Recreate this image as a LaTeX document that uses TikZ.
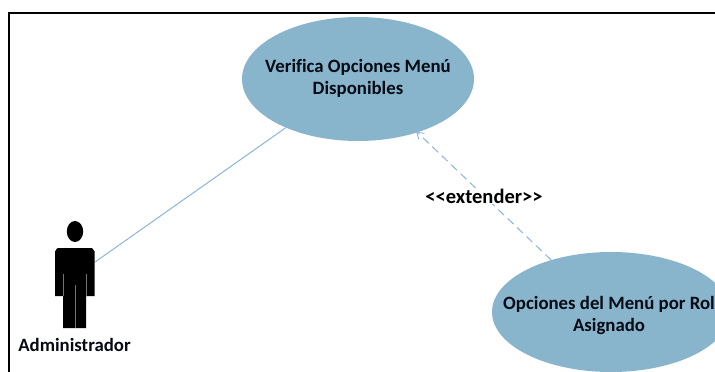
\documentclass[tikz,border=0pt]{standalone}
\usepackage{fontspec}
\setmainfont{Carlito}[Ligatures=NoCommon]
\usetikzlibrary{shapes.geometric,arrows.meta}
\definecolor{ucfill}{HTML}{88B5CC}
\definecolor{linkblue}{HTML}{8DB4DA}
\definecolor{inkdark}{HTML}{050A14}
\tikzset{
  x=1pt,y=-1pt,
  usecase/.style={ellipse,fill=ucfill,draw=none,inner sep=0pt},
  uctext/.style={font=\fontsize{18.8}{22}\selectfont\bfseries,text=inkdark,align=center,inner sep=0pt},
  link/.style={draw=linkblue,line width=1pt},
  deplink/.style={link,dash pattern=on 8pt off 5pt,shorten >=-2pt,-{Straight Barb[length=7pt,width=8pt,line width=0.8pt]}},
  actorpart/.style={fill=black,draw=none},
  seam/.style={draw=black!55,line width=0.6pt}
}
\begin{document}
\begin{tikzpicture}
\useasboundingbox (0,0) rectangle (715,372);
\clip (0,0) rectangle (715,372);
\fill[white] (0,0) rectangle (715,372);
% frame
\draw[black,line width=1.5pt] (9,372) -- (9,13) -- (715,13);
% use cases
\node[usecase,minimum width=232pt,minimum height=124pt] (uc1) at (358,79) {};
\node[usecase,minimum width=238pt,minimum height=120pt] (uc2) at (611,312) {};
\node[uctext] (t1) at (358,78.5) {Verifica Opciones Menú\\Disponibles};
\node[uctext] (t2) at (609,315.5) {Opciones del Menú por Rol\\Asignado};
% actor
\node[minimum width=40pt,minimum height=107pt,inner sep=0pt,draw=none] (actor) at (75,274.5) {};
\fill[actorpart] (75,231.5) ellipse [x radius=8.2,y radius=10.5];
\fill[actorpart] (55,296) -- (55,251) to[out=-90,in=180] (58,248) -- (91.5,248) to[out=0,in=-90] (94.5,251) -- (94.5,296) -- (86,296) -- (86,328) -- (63,328) -- (63,296) -- cycle;
\draw[seam] (63,274) -- (63,296);
\draw[seam] (86,274) -- (86,296);
\draw[seam] (75,285) -- (75,328);
\node[uctext] (name) at (74.5,344.5) {Administrador};
% connectors
\draw[link] (actor.32) -- (uc1.214.6);
\draw[deplink] (uc2.139.2) -- (uc1.-42.4);
\node[fill=white,inner xsep=1pt,inner ysep=1pt,text=black,font=\fontsize{20.5}{22}\selectfont\bfseries] (lab) at (484,196) {{<}{<}extender{>}{>}};
\end{tikzpicture}
\end{document}
